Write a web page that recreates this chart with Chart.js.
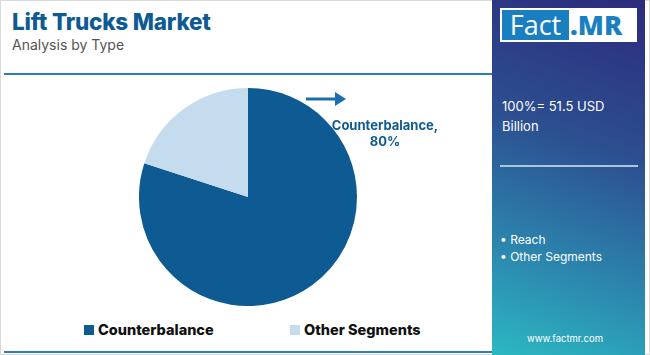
<!DOCTYPE html>
<html><head><meta charset="utf-8">
<script src="https://cdn.jsdelivr.net/npm/chart.js@4/dist/chart.umd.min.js"></script>
<style>
html,body{margin:0;padding:0;background:#fff;}
#wrap{position:relative;width:650px;height:355px;overflow:hidden;font-family:Inter,"Open Sans",sans-serif;}
#frame{position:absolute;left:0;top:0;width:648px;height:353px;border:1px solid #d9d9d9;}
#title{position:absolute;left:12px;top:8px;font-size:22.5px;font-weight:800;color:#0e5a92;letter-spacing:-0.2px;}
#sub{position:absolute;left:12px;top:36px;font-size:14px;color:#555;}
#topline{position:absolute;left:4px;top:73px;width:488px;height:2px;background:#2d7fb8;}
#botline{position:absolute;left:4px;top:351px;width:488px;height:2px;background:#2d7fb8;}
#panel{position:absolute;left:492px;top:0;width:153px;height:355px;background:linear-gradient(200deg,#2c2a7c 0%,#2c4f90 40%,#2c8ab0 75%,#2cb8c2 100%);}
#logo{position:absolute;left:500px;top:8px;width:137px;height:34px;background:#fff;}
#fact{position:absolute;left:502px;top:10px;width:67px;height:30px;background:#1a7fc0;color:#fff;font-size:27px;line-height:30px;text-align:center;font-family:"Open Sans",sans-serif;}
#mr{position:absolute;left:570px;top:10px;height:30px;color:#1a7fc0;font-size:27px;line-height:30px;font-weight:800;font-family:"Open Sans",sans-serif;}
.pt{position:absolute;color:#fff;font-size:13px;}
#sep{position:absolute;left:500px;top:165px;width:138px;height:2px;background:#a9c6dc;}
#chartbox{position:absolute;left:139px;top:88px;width:218px;height:218px;}
#arrow{position:absolute;left:306px;top:91px;}
.lbl{position:absolute;color:#0e5a92;font-size:13px;font-weight:700;text-align:center;width:120px;}
#legend{position:absolute;top:321px;left:0;width:490px;font-size:14.5px;font-weight:800;color:#111;}
.li{position:absolute;display:flex;align-items:center;}
.sw{width:10px;height:10px;margin-right:4px;}
</style></head>
<body><div id="wrap">
<div id="frame"></div>
<div id="title">Lift Trucks Market</div>
<div id="sub">Analysis by Type</div>
<div id="topline"></div>
<div id="botline"></div>
<div id="panel"></div>
<div id="logo"></div>
<div id="fact">Fact</div>
<div id="mr">.MR</div>
<div class="pt" style="left:502px;top:98px;">100%= 51.5 USD</div>
<div class="pt" style="left:502px;top:118px;">Billion</div>
<div id="sep"></div>
<div class="pt" style="left:500px;top:232px;font-size:12px;">• Reach</div>
<div class="pt" style="left:500px;top:249px;font-size:12px;">• Other Segments</div>
<div class="pt" style="left:520px;top:333px;font-size:9.5px;width:90px;text-align:center;">www.factmr.com</div>
<div id="chartbox"><canvas id="c"></canvas></div>
<svg id="arrow" width="42" height="18"><line x1="0" y1="8" x2="30" y2="8" stroke="#1a6fae" stroke-width="3"/><polygon points="29,1 40,8 29,15" fill="#1a6fae"/></svg>
<div class="lbl" id="l1" style="left:325px;top:117px;"></div>
<div id="legend"></div>
</div>
<script>
const categories = ["Counterbalance", "Other Segments"];
const values = [80, 20];
const colors = ["#0e5a92", "#c5dcef"];
const panelItems = ["Reach", "Other Segments"];

document.getElementById('l1').innerHTML = categories[0] + ',<br>' + values[0] + '%';
const lg = document.getElementById('legend');
const lx = [84, 290];
categories.forEach((c, i) => {
  const d = document.createElement('div');
  d.className = 'li'; d.style.left = lx[i] + 'px';
  d.innerHTML = '<div class="sw" style="background:' + colors[i] + '"></div><span>' + c + '</span>';
  lg.appendChild(d);
});

new Chart(document.getElementById('c'), {
  type: 'pie',
  data: { labels: categories, datasets: [{ data: values, backgroundColor: colors, borderWidth: 0 }] },
  options: {
    responsive: true, maintainAspectRatio: false, animation: false,
    layout: { padding: 0 },
    plugins: { legend: { display: false }, tooltip: { enabled: false } }
  }
});
</script>
</body></html>
